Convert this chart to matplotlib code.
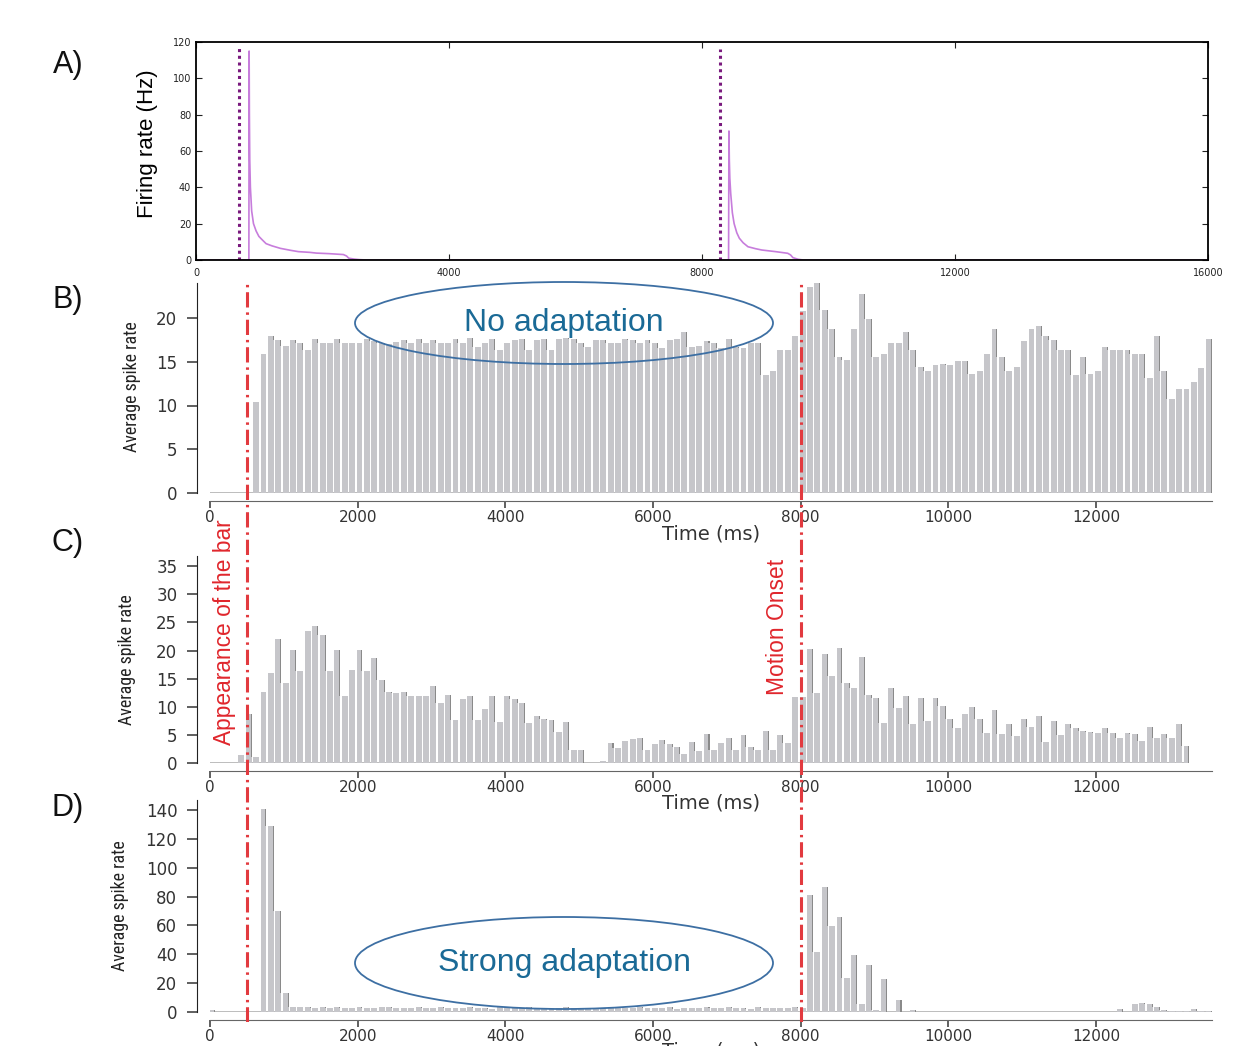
import numpy as np
import matplotlib
matplotlib.use("Agg")
import matplotlib.pyplot as plt
from matplotlib.patches import Ellipse
from matplotlib import font_manager as fm

plt.rcParams['font.family'] = ['DejaVu Sans']

# ---- panel A : firing rate trace
a_time = [0, 836, 840, 844, 850, 860, 880, 909, 950, 994, 1050, 1108, 1200, 1335, 1500,
          1619, 1800, 1903, 2100, 2330, 2380, 2415, 2500, 2585, 2700,
          8420, 8426, 8432, 8440, 8454, 8480, 8508, 8550, 8590, 8650, 8727, 8850, 8945,
          9164, 9355, 9400, 9437, 9519, 9600, 16000]
a_rate = [0, 0, 115, 80, 55, 40, 27, 20, 16, 13, 11, 9, 7.8, 6.4, 5.3,
          4.6, 4.2, 3.8, 3.5, 3.0, 2.2, 1.0, 0.5, 0.2, 0,
          0, 71, 55, 45, 36.6, 26, 20, 15, 12, 9.5, 7.3, 6.2, 5.5,
          4.6, 3.7, 2.8, 1.3, 0.4, 0, 0]
a_marks = [682, 8290]
a_mark_tops = [117, 116]

# ---- panels B, C, D : 100 ms histograms
bin_w = 100
b_start = 600
b_rate = [10.4, 15.9, 17.9, 17.5, 16.8, 17.5, 17.1, 16.3, 17.6, 17.1,
          17.1, 17.6, 17.1, 17.1, 17.1, 17.6, 17.4, 17.1, 17.0, 17.3,
          17.5, 17.1, 17.6, 17.1, 17.5, 17.1, 17.1, 17.6, 17.1, 17.7,
          16.7, 17.2, 17.6, 16.4, 17.1, 17.5, 17.6, 16.3, 17.5, 17.6,
          16.3, 17.6, 17.7, 17.6, 17.2, 16.7, 17.5, 17.5, 17.1, 17.2,
          17.6, 17.5, 17.1, 17.5, 17.2,
          16.6, 17.5, 17.6, 18.4, 16.7, 16.8, 17.4, 17.1, 16.6, 17.6, 16.7, 16.6, 17.2, 17.2,
          13.5, 13.9, 16.3, 16.4, 17.9,
          20.8, 23.6, 24.0, 20.9, 18.7, 15.5, 15.2, 18.7, 22.8, 19.9,
          15.6, 15.9, 17.1, 17.1, 18.4, 16.4, 14.4, 14.0, 14.6, 14.8,
          14.6, 15.1, 15.1, 13.6, 14.0, 15.9, 18.7, 15.6, 14.0, 14.4,
          17.4, 18.7, 19.1, 17.9, 17.5, 16.4, 16.4, 13.5, 15.5, 13.6,
          14.0, 16.7, 16.3, 16.4, 16.3, 15.9, 15.9, 13.2, 17.9, 14.0,
          10.7, 11.9, 11.9, 12.7, 14.3, 17.6]

c_start = 400
c_rate = [1.4, 8.7, 1.0, 12.7, 16.0, 22.0, 14.3, 20.1, 16.3, 23.4,
          24.4, 22.8, 16.3, 20.1, 12.0, 16.5, 20.1, 16.3, 18.7, 14.7,
          12.6, 12.5, 12.7, 12.0, 12.0, 12.0, 13.7, 10.6, 12.1, 7.7,
          11.3, 12.0, 7.6, 9.6, 12.0, 7.3, 12.0, 11.3, 10.6, 7.2,
          8.3, 7.9, 7.6, 5.6, 7.3, 2.3, 2.3, 0.0, 0.0, 0.4,
          3.5, 2.7, 3.9, 4.3, 4.4, 2.3, 3.4, 4.1, 3.3, 2.9,
          1.6, 3.8, 2.1, 5.1, 2.3, 3.5, 4.4, 2.3, 4.9, 2.9,
          2.4, 5.7, 2.3, 4.9, 3.5, 11.8,
          11.8, 20.2, 12.5, 19.3, 15.5, 20.5, 14.3, 13.4, 18.8, 12.1,
          11.6, 7.2, 13.3, 9.7, 11.9, 6.9, 11.5, 7.5, 11.5, 10.2,
          7.8, 6.2, 8.7, 9.9, 7.8, 5.4, 9.5, 5.1, 6.9, 4.8,
          7.8, 6.4, 8.3, 3.7, 7.5, 4.9, 6.9, 6.3, 5.7, 5.6,
          5.4, 6.3, 5.4, 4.4, 5.4, 5.1, 4.0, 6.4, 4.4, 5.1,
          4.4, 6.9, 3.1]

d_start = 0
d_rate = ([1.2, 0, 0, 0, 0, 0, 0, 141, 129, 70, 13.4,
           3.6, 3.2, 3.4, 3.0, 3.3, 2.8, 3.4, 3.1, 2.7, 3.3,
           3.0, 2.6, 3.2, 3.5, 2.9, 3.1, 2.6, 3.4, 3.0, 2.8,
           3.3, 2.5, 3.1, 2.9, 3.4, 2.7, 3.0, 2.4, 3.2, 3.3,
           2.6, 2.9, 3.4, 3.1, 2.5, 2.8, 3.0, 3.2, 2.6, 2.9,
           3.1, 2.4, 2.8, 3.3, 2.7, 3.0, 2.5, 3.2, 2.9, 2.6,
           3.0, 3.3, 2.4, 2.8, 3.1, 2.6, 3.2, 2.5, 2.9, 3.3,
           2.7, 3.0, 2.4, 3.2, 2.8, 2.5, 3.1, 2.9, 3.4, 3.0,
           81.3, 41.5, 86.6, 59.9, 65.9, 23.7, 39.2, 5.3, 32.3, 1.4,
           22.6, 0, 8.1, 0, 1.2]
          + [0] * 27
          + [2.3, 0, 5.8, 6.5, 5.3, 3.5, 1.2, 1.0, 1.0, 0.8, 2.3, 0.5, 1.0])

events = [500, 8000]
x_ticks = [0, 2000, 4000, 6000, 8000, 10000, 12000]

W, H = 1240, 1046
fig = plt.figure(figsize=(W / 100, H / 100), dpi=100)


def fx(px):
    return px / W


def fy(py):
    return (H - py) / H


# pick a narrow face for the y labels if one is installed
have = {(f.name, f.stretch) for f in fm.fontManager.ttflist}
names = {n for n, _ in have}
narrow_kw = {'family': ['DejaVu Sans']}
for cand in ['Liberation Sans Narrow', 'Roboto Condensed', 'Open Sans Condensed',
             'Noto Sans Condensed']:
    if cand in names:
        narrow_kw = {'family': [cand, 'DejaVu Sans']}
        break
else:
    if any(n == 'DejaVu Sans' and s in ('condensed', 'semi-condensed') for n, s in have):
        narrow_kw = {'family': ['DejaVu Sans'], 'fontstretch': 'condensed'}

# ---------------- A
axA = fig.add_axes([fx(196), fy(260), fx(1208) - fx(196), fy(42) - fy(260)])
axA.plot(a_time, a_rate, color='#c77ddc', lw=1.2)
for t, top in zip(a_marks, a_mark_tops):
    axA.plot([t, t], [0, top], color='#7a1a7e', lw=2.2, ls=(0, (1, 1.2)))
axA.set_xlim(0, 16000)
axA.set_ylim(0, 120)
axA.set_xticks([0, 4000, 8000, 12000, 16000])
axA.set_yticks(range(0, 121, 20))
axA.tick_params(direction='in', top=True, right=True, length=4, width=0.8,
                labelsize=7, colors='#222')
axA.tick_params(axis='x', pad=6)
for s in axA.spines.values():
    s.set_linewidth(1.3)
fig.text(fx(147), fy(144), 'Firing rate (Hz)', rotation=90, ha='center', va='center',
         fontsize=16, family=['Liberation Sans', 'DejaVu Sans'])


# ---------------- B, C, D
def hist_panel(ax, start, vals, ymax, yticks):
    vals = np.array(vals, dtype=float)
    left = start + bin_w * np.arange(len(vals))
    nxt = np.append(vals[1:], 0)
    low = np.minimum(vals, nxt)
    ax.hlines(0, 0, left[-1] + 65, color='#bdbdbd', lw=1.4, zorder=1)
    ax.bar(left + 25, vals, width=80, color='#c6c6ca', zorder=2)
    ax.bar(left + 58, vals - low, width=14, bottom=low, color='#8a8a8a', zorder=3)
    ax.set_xlim(0, 13570)
    ax.set_ylim(0, ymax)
    ax.spines['top'].set_visible(False)
    ax.spines['right'].set_visible(False)
    ax.spines['left'].set_position(('outward', 9.5))
    ax.spines['left'].set_bounds(0, ymax)
    ax.spines['left'].set_color('#222')
    ax.spines['bottom'].set_position(('outward', 5.5))
    ax.spines['bottom'].set_bounds(0, 13570)
    ax.spines['bottom'].set_color('#666')
    ax.set_xticks(x_ticks)
    ax.set_yticks(yticks)
    ax.tick_params(axis='y', length=7, width=1.2, pad=7, labelsize=12,
                   color='#444', labelcolor='#333')
    ax.tick_params(axis='x', length=5, width=1.2, pad=1.5, labelsize=11,
                   color='#444', labelcolor='#333')
    ax.patch.set_alpha(0)


axB = fig.add_axes([fx(210), fy(493), fx(1212) - fx(210), fy(283) - fy(493)])
hist_panel(axB, b_start, b_rate, 24, range(0, 21, 5))
axC = fig.add_axes([fx(210), fy(763), fx(1212) - fx(210), fy(556) - fy(763)])
hist_panel(axC, c_start, c_rate, 36.8, range(0, 36, 5))
axD = fig.add_axes([fx(210), fy(1012), fx(1212) - fx(210), fy(800) - fy(1012)])
hist_panel(axD, d_start, d_rate, 147, range(0, 141, 20))

renderer = fig.canvas.get_renderer()
for px, py in [(132, 387), (127, 660), (120, 906)]:
    lab = fig.text(fx(px), fy(py), 'Average spike rate', rotation=90, ha='center',
                   va='center', fontsize=14, color='#222', **narrow_kw)
    span = lab.get_window_extent(renderer).height
    if span > 135:
        lab.set_fontsize(14 * 132 / span)
for py in [534, 803, 1051]:
    fig.text(fx(711), fy(py), 'Time (ms)', ha='center', va='center', fontsize=14,
             color='#333')

# event lines across B-D
ov = fig.add_axes([fx(210), fy(1022), fx(1212) - fx(210), fy(283) - fy(1022)])
ov.set_xlim(0, 13570)
ov.set_ylim(0, 1)
ov.axis('off')
for e in events:
    ov.axvline(e, color='#e23a3f', lw=2.2, dashes=(5, 1.6, 0.8, 1.6))

sans = ['Liberation Sans', 'DejaVu Sans']
fig.text(fx(225), fy(632), 'Appearance of the bar', rotation=90, ha='center', va='center',
         fontsize=16.4, color='#e0262c', family=sans)
fig.text(fx(778), fy(627), 'Motion Onset', rotation=90, ha='center', va='center',
         fontsize=16.4, color='#e0262c', family=sans)

for cy, h, label in [(323, 82, 'No adaptation'), (963, 92, 'Strong adaptation')]:
    fig.add_artist(Ellipse((fx(564), fy(cy)), fx(418), h / H, transform=fig.transFigure,
                           fill=False, ec='#3d6fa3', lw=1.3))
    fig.text(fx(564), fy(cy), label, ha='center', va='center', fontsize=23,
             color='#1a6a96', family=sans)

for py, letter in [(65, 'A)'), (300, 'B)'), (543, 'C)'), (808, 'D)')]:
    fig.text(fx(68), fy(py), letter, ha='center', va='center', fontsize=22,
             family=sans, color='#111')

fig.savefig('out.png', dpi=100)
